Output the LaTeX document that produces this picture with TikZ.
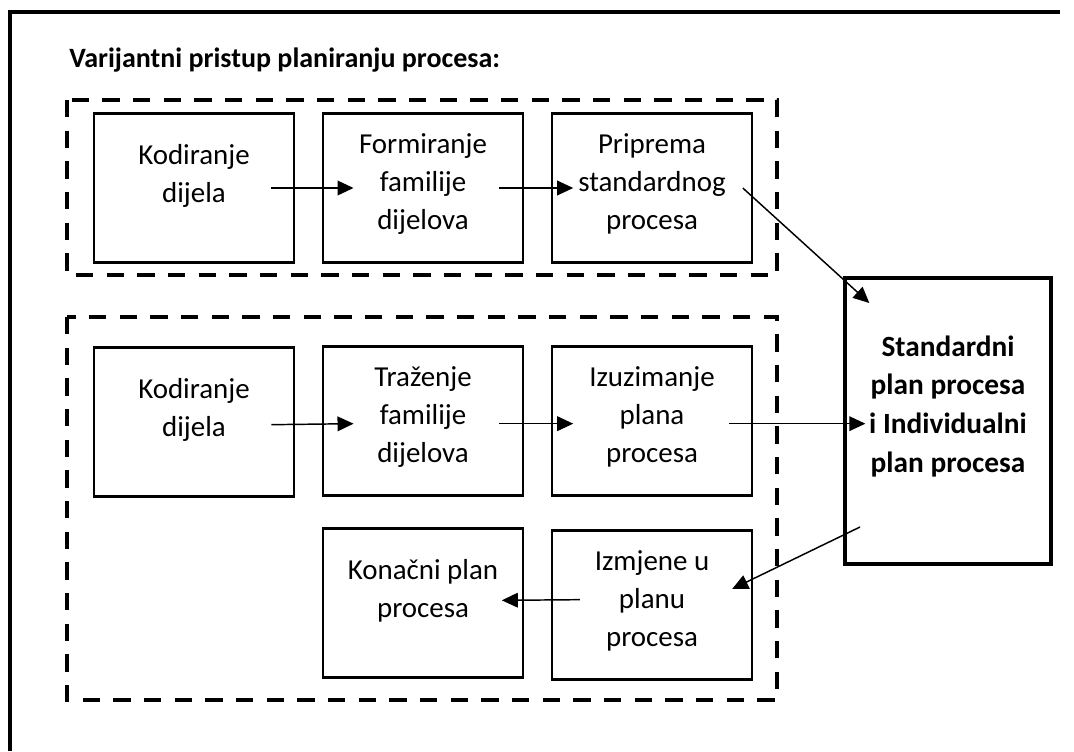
\documentclass[tikz,border=0pt]{standalone}
\usepackage{fontspec}
\setmainfont{Carlito}
\usepackage{tikz}
\usetikzlibrary{arrows.meta}

\newcommand{\dignuto}[2]{\raisebox{#1}[\height][\depth]{\begin{tabular}{@{}c@{}}#2\end{tabular}}}

\tikzset{
  korak/.style={draw, line width=2.2pt, minimum width=150pt, minimum height=112pt,
                inner sep=0pt, font=\fontsize{21.7}{28.5}\selectfont},
  plan/.style={draw, line width=3pt, minimum width=155pt, minimum height=214pt,
               inner sep=0pt, font=\bfseries\fontsize{22}{29}\selectfont},
  grupa/.style={line width=3pt, dash pattern=on 13pt off 10pt},
  tok/.style={line width=1.1pt, -{Triangle[length=12pt,width=11pt]}},
  naslov/.style={font=\bfseries\fontsize{21}{25}\selectfont, inner sep=0pt}
}

\begin{document}
\begin{tikzpicture}[x=0.75pt,y=-0.75pt]
        \useasboundingbox (0,0) rectangle (1074,751);
        \draw [line width=3pt] (10,751) -- (10,12) -- (1060,12);        % okvir
        \node [naslov, anchor=base west] (naslov) at (69,67) {Varijantni pristup planiranju procesa:};

        \draw [grupa] (67,100) rectangle (777,275);                      % gornja grupa
        \node [korak] (kod1) at (194,188) {\dignuto{9pt}{Kodiranje\\dijela}};
        \node [korak] (fam1) at (423,188) {\dignuto{3pt}{Formiranje\\familije\\dijelova}};
        \node [korak] (pri1) at (652,188) {\dignuto{3pt}{Priprema\\standardnog\\procesa}};

        \draw [grupa] (67,317) rectangle (777,700);                      % donja grupa
        \node [korak] (kod2) at (194,422) {\dignuto{9pt}{Kodiranje\\dijela}};
        \node [korak] (tra2) at (423,421) {\dignuto{3pt}{Traženje\\familije\\dijelova}};
        \node [korak] (izu2) at (652,421) {\dignuto{3pt}{Izuzimanje\\plana\\procesa}};
        \node [korak] (kon3) at (423,603) {\dignuto{9pt}{Konačni plan\\procesa}};
        \node [korak] (izm3) at (652,605) {\dignuto{3pt}{Izmjene u\\planu\\procesa}};

        \node [plan] (std) at (948,421) {\dignuto{11pt}{Standardni\\plan procesa\\i Individualni\\plan procesa}};

        \draw [tok] ([xshift=-18pt]kod1.east) -- ([xshift=24pt]fam1.west);
        \draw [tok] ([xshift=-19pt]fam1.east) -- ([xshift=17pt]pri1.west);
        \draw [tok] ([xshift=-8pt]pri1.east) -- ([xshift=20pt,yshift=-20pt]std.north west);
        \draw [tok] ([xshift=-18pt,yshift=-2pt]kod2.east) -- ([xshift=24pt,yshift=-2pt]tra2.west);
        \draw [tok] ([xshift=-19pt,yshift=-2pt]tra2.east) -- ([xshift=17pt,yshift=-2pt]izu2.west);
        \draw [tok] ([xshift=-18pt,yshift=-2pt]izu2.east) -- ([xshift=17pt,yshift=-2pt]std.west);
        \draw [tok] ([xshift=13pt,yshift=29pt]std.south west) -- ([xshift=-16pt,yshift=12pt]izm3.east);
        \draw [tok] ([xshift=22pt,yshift=4pt]izm3.west) -- ([xshift=-17pt,yshift=2pt]kon3.east);
\end{tikzpicture}
\end{document}
